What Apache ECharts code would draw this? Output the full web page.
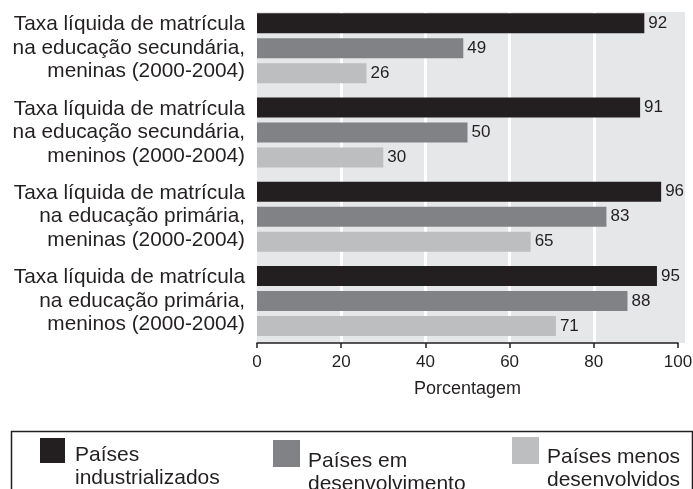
<!DOCTYPE html>
<html>
<head>
<meta charset="utf-8">
<script src="https://cdn.jsdelivr.net/npm/echarts@6/dist/echarts.min.js"></script>
<style>
  html, body { margin: 0; padding: 0; background: #fff; }
  #chart { width: 693px; height: 489px; }
</style>
</head>
<body>
<div id="chart"></div>
<script>
// Categorias (de cima para baixo)
const categorias = [
    'Taxa líquida de matrícula\nna educação secundária,\nmeninas (2000-2004)',
    'Taxa líquida de matrícula\nna educação secundária,\nmeninos (2000-2004)',
    'Taxa líquida de matrícula\nna educação primária,\nmeninas (2000-2004)',
    'Taxa líquida de matrícula\nna educação primária,\nmeninos (2000-2004)'
];

// Valores por grupo de países
const industrializados = [92, 91, 96, 95];
const emDesenvolvimento = [49, 50, 83, 88];
const menosDesenvolvidos = [26, 30, 65, 71];

const nomesSeries = ['Países\nindustrializados', 'Países em\ndesenvolvimento', 'Países menos\ndesenvolvidos'];
const ticksX = [0, 20, 40, 60, 80, 100];

const fonte = '"Liberation Sans", Arial, sans-serif';
const corTexto = '#231f20';
const cores = ['#231f20', '#808285', '#bcbec0'];

document.addEventListener('DOMContentLoaded', () => {
    const chart = echarts.init(document.getElementById('chart'));

    function serie(nome, dados, cor) {
        return {
            name: nome,
            type: 'bar',
            data: dados,
            barWidth: 20,
            barGap: '25%',
            itemStyle: { color: cor },
            label: {
                show: true,
                position: 'right',
                distance: 4,
                color: corTexto,
                fontFamily: fonte,
                fontSize: 17
            }
        };
    }

    // uma legenda por item, para posicionar cada um como no original;
    // a linha vazia no início desce o texto em relação ao quadrado
    function legenda(nome, left, top, tam, desce, recuo) {
        return {
            data: [nome],
            left: left,
            top: top,
            padding: 0,
            itemWidth: tam,
            itemHeight: tam,
            icon: 'rect',
            selectedMode: false,
            formatter: n => '{a| }\n' + n.split('\n').map(l => '{t|' + l + '}').join('\n'),
            textStyle: {
                color: corTexto,
                fontFamily: fonte,
                fontSize: 21,
                rich: {
                    a: { fontSize: 10, lineHeight: desce },
                    t: {
                        color: corTexto,
                        fontFamily: fonte,
                        fontSize: 21,
                        lineHeight: 23,
                        padding: [0, 0, 0, recuo]
                    }
                }
            }
        };
    }

    const option = {
        animation: false,
        textStyle: { fontFamily: fonte },
        grid: {
            left: 257,
            right: 15,
            top: 6,
            bottom: 146,
            outerBoundsMode: 'none'
        },
        xAxis: {
            type: 'value',
            min: 0,
            max: 100,
            interval: 20,
            name: 'Porcentagem',
            nameLocation: 'middle',
            nameGap: 37,
            nameTextStyle: { color: corTexto, fontFamily: fonte, fontSize: 18 },
            axisLine: { show: true, lineStyle: { color: '#231f20', width: 1.5 } },
            axisTick: { show: true, length: 5, lineStyle: { color: '#231f20', width: 1.5 } },
            axisLabel: {
                color: corTexto,
                fontFamily: fonte,
                fontSize: 17,
                margin: 11,
                formatter: v => (ticksX.includes(v) ? String(v) : '')
            },
            splitLine: {
                show: true,
                showMinLine: false,
                showMaxLine: false,
                lineStyle: { color: '#ffffff', width: 3 }
            }
        },
        yAxis: {
            type: 'category',
            inverse: true,
            data: categorias,
            axisLine: { show: false },
            axisTick: { show: false },
            axisLabel: {
                color: corTexto,
                fontFamily: fonte,
                fontSize: 20.8,
                lineHeight: 23.5,
                align: 'right',
                margin: 12
            }
        },
        legend: [
            legenda(nomesSeries[0], 40, 422.5, 25, 32, 5),
            legenda(nomesSeries[1], 273, 425.5, 27, 39, 3),
            legenda(nomesSeries[2], 512, 422.5, 27, 36, 3)
        ],
        graphic: [
            {
                // fundo cinza da área do gráfico
                type: 'rect',
                left: 257,
                top: 12,
                z: -10,
                shape: { width: 428, height: 331 },
                style: { fill: '#e6e7e8' },
                silent: true
            },
            {
                // moldura da legenda
                type: 'rect',
                left: 9,
                top: 429,
                shape: { width: 681, height: 90 },
                style: { fill: 'none', stroke: '#231f20', lineWidth: 1.5 },
                silent: true
            }
        ],
        series: [
            serie(nomesSeries[0], industrializados, cores[0]),
            serie(nomesSeries[1], emDesenvolvimento, cores[1]),
            serie(nomesSeries[2], menosDesenvolvidos, cores[2])
        ]
    };

    chart.setOption(option);
    window.addEventListener('resize', () => chart.resize());
});
</script>
</body>
</html>
